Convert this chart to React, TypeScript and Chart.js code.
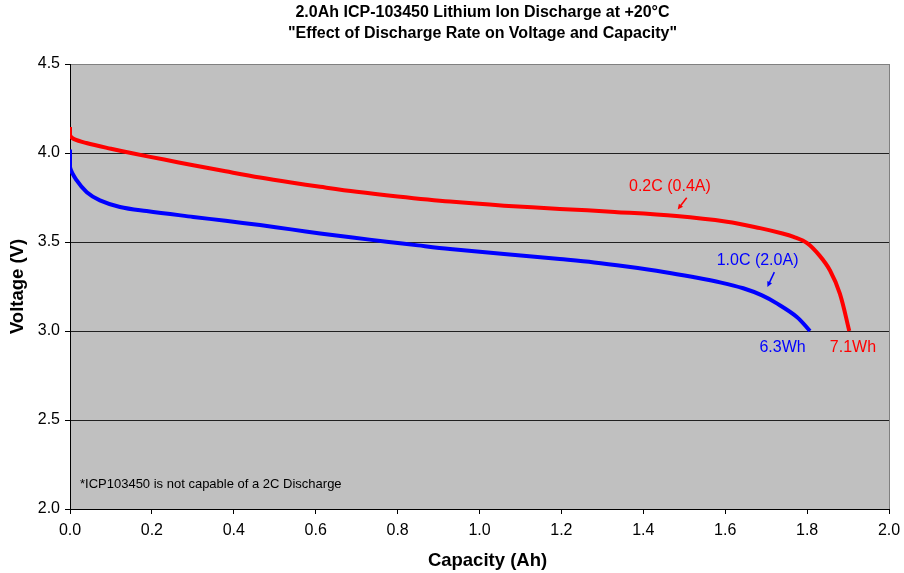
import React, { useEffect, useRef } from "react";
import { Chart, registerables } from "chart.js";

Chart.register(...registerables);

// ---- Data ----
const titleLines = [
  "2.0Ah ICP-103450 Lithium Ion Discharge at +20°C",
  "\"Effect of Discharge Rate on Voltage and Capacity\"",
];
const xAxisTitle = "Capacity (Ah)";
const yAxisTitle = "Voltage (V)";

const xTicks = [0, 0.2, 0.4, 0.6, 0.8, 1.0, 1.2, 1.4, 1.6, 1.8, 2.0];
const yTicks = [2.0, 2.5, 3.0, 3.5, 4.0, 4.5];

// 0.2C (0.4A) discharge
const capLow = [0, 0, 0.01, 0.04, 0.1, 0.155, 0.23, 0.301, 0.38, 0.464, 0.54, 0.611, 0.7, 0.8, 0.928, 1.06, 1.196, 1.33, 1.481, 1.604, 1.685, 1.74, 1.767, 1.8, 1.83, 1.856, 1.88, 1.903];
const voltLow = [4.146, 4.1, 4.078, 4.056, 4.024, 3.997, 3.963, 3.931, 3.897, 3.862, 3.834, 3.81, 3.782, 3.756, 3.727, 3.704, 3.686, 3.669, 3.646, 3.614, 3.578, 3.548, 3.529, 3.494, 3.425, 3.34, 3.21, 3.0];

// 1.0C (2.0A) discharge
const capHigh = [0, 0, 0.016, 0.041, 0.073, 0.122, 0.187, 0.301, 0.38, 0.464, 0.54, 0.611, 0.69, 0.773, 0.85, 0.928, 1.06, 1.196, 1.28, 1.359, 1.45, 1.522, 1.59, 1.644, 1.69, 1.726, 1.775, 1.807];
const voltHigh = [4.02, 3.92, 3.847, 3.78, 3.734, 3.697, 3.674, 3.641, 3.619, 3.595, 3.571, 3.548, 3.525, 3.502, 3.481, 3.461, 3.433, 3.404, 3.385, 3.362, 3.332, 3.303, 3.272, 3.24, 3.2, 3.155, 3.079, 3.0];

// annotations (data coordinates)
const labelTexts = ["0.2C (0.4A)", "1.0C (2.0A)", "6.3Wh", "7.1Wh"];
const labelX = [1.465, 1.679, 1.74, 1.912];
const labelY = [3.813, 3.393, 2.907, 2.907];
const labelColors = ["#FF0000", "#0000FF", "#0000FF", "#FF0000"];
const arrowFrom = [[1.506, 3.749], [1.72, 3.331]];
const arrowTo = [[1.484, 3.682], [1.703, 3.247]];
const arrowColors = ["#FF0000", "#0000FF"];
const noteText = "*ICP103450 is not capable of a 2C Discharge";
const notePos = [0.0244, 2.137];

const FONT = "'Liberation Sans', Arial, sans-serif";

const decorPlugin = {
  id: "decor",
  beforeDraw(chart: any) {
    const { ctx, chartArea: a } = chart;
    ctx.save();
    ctx.fillStyle = "#C0C0C0";
    ctx.fillRect(a.left, a.top, a.right - a.left, a.bottom - a.top);
    ctx.restore();
  },
  afterDraw(chart: any) {
    const { ctx, chartArea: a } = chart;
    const xs = chart.scales.x;
    const ys = chart.scales.y;
    ctx.save();
    // right border
    ctx.strokeStyle = "#808080";
    ctx.lineWidth = 1;
    ctx.beginPath();
    ctx.moveTo(Math.round(a.right) + 0.5, a.top);
    ctx.lineTo(Math.round(a.right) + 0.5, a.bottom);
    ctx.stroke();

    // title
    const cx = (a.left + a.right) / 2 + 3;
    ctx.fillStyle = "#000";
    ctx.textAlign = "center";
    ctx.textBaseline = "middle";
    ctx.font = `bold 16px ${FONT}`;
    ctx.fillText(titleLines[0], cx, 13);
    ctx.fillText(titleLines[1], cx, 33.5);

    // x axis title
    ctx.font = `bold 18.5px ${FONT}`;
    ctx.fillText(xAxisTitle, cx + 5, 561);

    // labels
    ctx.font = `16px ${FONT}`;
    for (let i = 0; i < labelTexts.length; i++) {
      ctx.fillStyle = labelColors[i];
      ctx.fillText(labelTexts[i], xs.getPixelForValue(labelX[i]), ys.getPixelForValue(labelY[i]));
    }
    // arrows
    for (let i = 0; i < arrowFrom.length; i++) {
      const x1 = xs.getPixelForValue(arrowFrom[i][0]);
      const y1 = ys.getPixelForValue(arrowFrom[i][1]);
      const x2 = xs.getPixelForValue(arrowTo[i][0]);
      const y2 = ys.getPixelForValue(arrowTo[i][1]);
      const ang = Math.atan2(y2 - y1, x2 - x1);
      const head = 6;
      ctx.strokeStyle = arrowColors[i];
      ctx.fillStyle = arrowColors[i];
      ctx.lineWidth = 1.5;
      ctx.beginPath();
      ctx.moveTo(x1, y1);
      ctx.lineTo(x2 - Math.cos(ang) * head * 0.8, y2 - Math.sin(ang) * head * 0.8);
      ctx.stroke();
      ctx.beginPath();
      ctx.moveTo(x2, y2);
      ctx.lineTo(x2 - Math.cos(ang - 0.45) * head, y2 - Math.sin(ang - 0.45) * head);
      ctx.lineTo(x2 - Math.cos(ang + 0.45) * head, y2 - Math.sin(ang + 0.45) * head);
      ctx.closePath();
      ctx.fill();
    }
    // note
    ctx.fillStyle = "#000";
    ctx.textAlign = "left";
    ctx.font = `13px ${FONT}`;
    ctx.fillText(noteText, xs.getPixelForValue(notePos[0]), ys.getPixelForValue(notePos[1]));
    ctx.restore();
  },
};

export default function App() {
  const ref = useRef<HTMLCanvasElement | null>(null);
  useEffect(() => {
    if (!ref.current) return;
    const chart = new Chart(ref.current, {
      type: "scatter",
      data: {
        datasets: [
          {
            label: "0.2C (0.4A)",
            data: capLow.map((c, i) => ({ x: c, y: voltLow[i] })),
            showLine: true,
            borderColor: "#FF0000",
            backgroundColor: "#FF0000",
            borderWidth: 4,
            pointRadius: 0,
            tension: 0.35,
          },
          {
            label: "1.0C (2.0A)",
            data: capHigh.map((c, i) => ({ x: c, y: voltHigh[i] })),
            showLine: true,
            borderColor: "#0000FF",
            backgroundColor: "#0000FF",
            borderWidth: 4,
            pointRadius: 0,
            tension: 0.35,
          },
        ],
      },
      options: {
        animation: false,
        responsive: false,
        maintainAspectRatio: false,
        layout: { padding: { top: 64, right: 15, left: 0, bottom: 0 } },
        plugins: {
          legend: { display: false },
          title: { display: false },
          tooltip: { enabled: false },
        },
        scales: {
          x: {
            type: "linear",
            min: 0,
            max: 2,
            afterBuildTicks: (s: any) => {
              s.ticks = xTicks.map((v) => ({ value: v }));
            },
            afterFit: (s: any) => {
              s.height = 64;
              s.paddingRight = 0;
              s.paddingLeft = 0;
            },
            ticks: {
              color: "#000",
              font: { family: FONT, size: 16 },
              padding: 7,
              maxRotation: 0,
              callback: (v: any) => Number(v).toFixed(1),
            },
            grid: {
              drawOnChartArea: false,
              drawTicks: true,
              tickLength: 5,
              tickColor: "#000",
              color: "#000",
            },
            border: { display: true, color: "#000", width: 1 },
            title: { display: false },
          },
          y: {
            type: "linear",
            min: 2,
            max: 4.5,
            afterBuildTicks: (s: any) => {
              s.ticks = yTicks.map((v) => ({ value: v }));
            },
            afterFit: (s: any) => {
              s.width = 70;
            },
            ticks: {
              color: "#000",
              font: { family: FONT, size: 16 },
              padding: 5,
              callback: (v: any) => Number(v).toFixed(1),
            },
            grid: {
              drawTicks: true,
              tickLength: 5,
              tickColor: "#000",
              color: (c: any) => (c.tick && c.tick.value === 4.5 ? "#808080" : "#202020"),
              lineWidth: 1,
            },
            border: { display: true, color: "#000", width: 1 },
            title: {
              display: true,
              text: yAxisTitle,
              color: "#000",
              font: { family: FONT, size: 18.5, weight: "bold" },
              padding: { top: 7, bottom: 0 },
            },
          },
        },
      },
      plugins: [decorPlugin],
    });
    return () => chart.destroy();
  }, []);
  return (
    <div style={{ position: "absolute", left: 0, top: 0, width: 904, height: 573 }}>
      <canvas ref={ref} width={904} height={573} style={{ display: "block", width: 904, height: 573 }} />
    </div>
  );
}
